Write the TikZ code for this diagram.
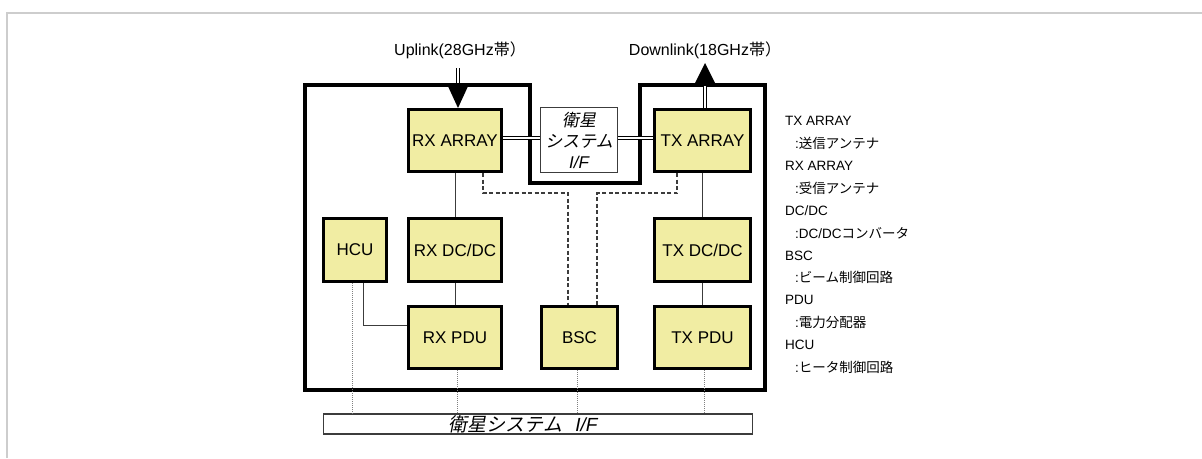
\documentclass[tikz,border=0pt]{standalone}
\usepackage{fontspec}
\setmainfont{Liberation Sans}
\newfontfamily\cjk{Noto Sans CJK JP}
\newfontfamily\cjkit[FakeSlant=0.2]{Noto Sans CJK JP}
\usetikzlibrary{calc}
\definecolor{boxyellow}{RGB}{241,237,163}
\definecolor{framegray}{RGB}{205,205,205}
\definecolor{dkgray}{RGB}{60,60,60}
\begin{document}
\begin{tikzpicture}[x=1pt,y=-1pt,
  ybox/.style={draw=black, line width=3pt, fill=boxyellow, inner sep=0pt, align=center,
    font=\fontsize{17}{20}\selectfont},
  ifbox/.style={draw=dkgray, line width=1.6pt, fill=white, inner sep=0pt, align=center,
    font=\fontsize{17}{21}\selectfont},
  mainframe/.style={draw=black, line width=4pt, line join=miter},
  dbl/.style={draw=black, line width=1.3pt, double=white, double distance=2pt},
  thinline/.style={draw=dkgray, line width=1pt},
  dashline/.style={draw=dkgray, line width=1.4pt, dash pattern=on 4pt off 2.5pt},
  dotline/.style={draw=gray, line width=1pt, dash pattern=on 1pt off 1pt},
  lbl/.style={inner sep=0pt, font=\fontsize{16}{18}\selectfont},
  legend/.style={anchor=west, inner sep=0pt, font=\fontsize{13.5}{15}\selectfont},
]
\useasboundingbox (0,0) rectangle (1202,458);
\draw[framegray, line width=2pt] (7,458) -- (7,13) -- (1202,13);

% main frame
\draw[mainframe] (305,85) -- (530,85) -- (530,183) -- (640,183) -- (640,85)
  -- (765,85) -- (765,390) -- (305,390) -- cycle;

% boxes
\node[ybox, minimum width=93pt, minimum height=62pt] (rxa) at (455,140.5) {RX ARRAY};
\node[ifbox, minimum width=77pt, minimum height=65pt] (sif) at (579,140) {{\cjkit 衛星}\\{\cjkit システム}\\{\itshape I/F}};
\node[ybox, minimum width=96pt, minimum height=62pt] (txa) at (702.5,140.5) {TX ARRAY};
\node[ybox, minimum width=63pt, minimum height=63pt] (hcu) at (355,250) {HCU};
\node[ybox, minimum width=93pt, minimum height=63pt] (rxdc) at (455,250) {RX DC/DC};
\node[ybox, minimum width=96pt, minimum height=63pt] (txdc) at (702.5,250) {TX DC/DC};
\node[ybox, minimum width=93pt, minimum height=62pt] (rxpdu) at (455,337.5) {RX PDU};
\node[ybox, minimum width=76pt, minimum height=62pt] (bsc) at (579.5,337.5) {BSC};
\node[ybox, minimum width=96pt, minimum height=62pt] (txpdu) at (702.5,337.5) {TX PDU};
\node[ifbox, line width=1.8pt, minimum width=429pt, minimum height=20pt,
  font=\fontsize{19}{21}\selectfont] (bar) at (538,424) {{\cjkit 衛星システム}\hspace{0.7em}{\itshape I/F}\hspace{30pt}};

% labels
\node[lbl] (uplink) at (460,50) {Uplink(28GHz{\cjk 帯）}};
\node[lbl] (downlink) at (705,50) {Downlink(18GHz{\cjk 帯）}};

% uplink arrow
\coordinate (upTop) at (458,68);
\draw[dbl] (upTop) -- (458,86);
\fill[black] (446.5,83) -- (469.5,83) -- ([xshift=3pt]rxa.north) -- cycle;

% downlink arrow
\draw[dbl] ([xshift=2.5pt]txa.north) -- (705,86);
\fill[black] (694,85) -- (716,85) -- (705,63) -- cycle;

% double links
\draw[dbl] ([yshift=2.5pt]rxa.east) -- ([yshift=2pt]sif.west);
\draw[dbl] ([yshift=2pt]sif.east) -- ([yshift=2.5pt]txa.west);

% thin solid links
\draw[thinline] (rxa.south) -- (rxdc.north);
\draw[thinline] (rxdc.south) -- (rxpdu.north);
\draw[thinline] (txa.south) -- (txdc.north);
\draw[thinline] (txdc.south) -- (txpdu.north);
\draw[thinline] ([xshift=8pt]hcu.south) |- ([yshift=12.5pt]rxpdu.west);

% dashed links to BSC
\draw[dashline] ([xshift=28pt]rxa.south) -- ++(0,20) -| ([xshift=-11.5pt]bsc.north);
\draw[dashline] ([xshift=-25.5pt]txa.south) -- ++(0,20) -| ([xshift=17.5pt]bsc.north);

% dotted links to bottom I/F
\coordinate (d1) at ([xshift=-3pt]hcu.south);
\coordinate (d2) at ([xshift=2pt]rxpdu.south);
\coordinate (d3) at ([xshift=-2.5pt]bsc.south);
\coordinate (d4) at ([xshift=1.5pt]txpdu.south);
\foreach \d in {d1,d2,d3,d4} \draw[dotline] (\d) -- (\d |- bar.north);

% legend
\node[legend] (l1) at (785,121.0) {TX ARRAY};
\node[legend] (l2) at (795,143.4) {:{\cjk 送信アンテナ}};
\node[legend] (l3) at (785,165.8) {RX ARRAY};
\node[legend] (l4) at (795,188.2) {:{\cjk 受信アンテナ}};
\node[legend] (l5) at (785,210.6) {DC/DC};
\node[legend] (l6) at (795,233.0) {:DC/DC{\cjk コンバータ}};
\node[legend] (l7) at (785,255.4) {BSC};
\node[legend] (l8) at (795,277.8) {:{\cjk ビーム制御回路}};
\node[legend] (l9) at (785,300.2) {PDU};
\node[legend] (l10) at (795,322.6) {:{\cjk 電力分配器}};
\node[legend] (l11) at (785,345.0) {HCU};
\node[legend] (l12) at (795,367.4) {:{\cjk ヒータ制御回路}};
\end{tikzpicture}
\end{document}
